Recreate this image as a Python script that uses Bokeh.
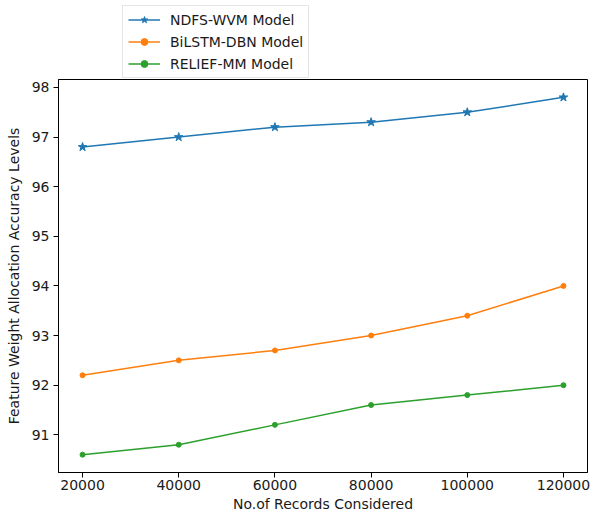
from bokeh.plotting import figure
from bokeh.layouts import column
from bokeh.models import Range1d, FixedTicker, BasicTickFormatter, Legend, LegendItem
from bokeh.embed import file_html
from bokeh.resources import INLINE

records = [20000, 40000, 60000, 80000, 100000, 120000]
ndfs_wvm = [96.8, 97.0, 97.2, 97.3, 97.5, 97.8]
bilstm_dbn = [92.2, 92.5, 92.7, 93.0, 93.4, 94.0]
relief_mm = [90.6, 90.8, 91.2, 91.6, 91.8, 92.0]
x_ticks = [20000, 40000, 60000, 80000, 100000, 120000]
y_ticks = [91, 92, 93, 94, 95, 96, 97, 98]

FONT = "DejaVu Sans"
FS = "14px"
W = 592
TOP_H = 78
MAIN_H = 516 - TOP_H

p = figure(width=W, height=MAIN_H, output_backend="svg", toolbar_location=None,
           x_range=Range1d(15000, 125000), y_range=Range1d(90.24, 98.16),
           min_border_left=58, min_border_right=5, min_border_top=1, min_border_bottom=44)

p.xgrid.visible = False
p.ygrid.visible = False
p.outline_line_color = "black"
p.outline_line_width = 1
p.outline_line_alpha = 1.0

for ax in (p.xaxis[0], p.yaxis[0]):
    ax.axis_line_color = "black"
    ax.major_tick_line_color = "black"
    ax.major_tick_out = 5
    ax.major_tick_in = 0
    ax.minor_tick_line_color = None
    ax.major_label_text_font = FONT
    ax.major_label_text_font_size = FS
    ax.major_label_text_color = "#1a1a1a"
    ax.axis_label_text_font = FONT
    ax.axis_label_text_font_size = FS
    ax.axis_label_text_font_style = "normal"
    ax.axis_label_text_color = "#1a1a1a"

p.xaxis.ticker = FixedTicker(ticks=x_ticks)
p.yaxis.ticker = FixedTicker(ticks=y_ticks)
p.xaxis.formatter = BasicTickFormatter(use_scientific=False)
p.xaxis.axis_label = "No.of Records Considered"
p.yaxis.axis_label = "Feature Weight Allocation Accuracy Levels"
p.xaxis.axis_label_standoff = 3
p.yaxis.axis_label_standoff = 7
p.xaxis.major_label_standoff = 2
p.yaxis.major_label_standoff = 4

series = [
    ("NDFS-WVM Model", ndfs_wvm, "#1f77b4", "star", 9),
    ("BiLSTM-DBN Model", bilstm_dbn, "#ff7f0e", "circle", 5),
    ("RELIEF-MM Model", relief_mm, "#2ca02c", "circle", 5),
]

for name, vals, col, marker, size in series:
    p.line(records, vals, line_color=col, line_width=1.5)
    p.scatter(records, vals, marker=marker, size=size, fill_color=col, line_color=col)

# Legend holder above the plot frame (its own small figure; the glyphs lie outside its ranges)
lf = figure(width=W, height=TOP_H, output_backend="svg", toolbar_location=None,
            x_range=Range1d(0, 1), y_range=Range1d(0, 1),
            x_axis_location=None, y_axis_location=None,
            min_border_left=0, min_border_right=0, min_border_top=0, min_border_bottom=0)
lf.xgrid.visible = False
lf.ygrid.visible = False
lf.outline_line_color = None

items = []
for name, vals, col, marker, size in series:
    l = lf.line(records, vals, line_color=col, line_width=1.5)
    s = lf.scatter(records, vals, marker=marker, size=size, fill_color=col, line_color=col)
    items.append(LegendItem(label=name, renderers=[l, s]))

legend = Legend(items=items, location=(64, 0))
legend.label_text_font = FONT
legend.label_text_font_size = FS
legend.label_text_color = "#1a1a1a"
legend.border_line_color = "#cccccc"
legend.border_line_width = 1
legend.background_fill_alpha = 1.0
legend.glyph_width = 32
legend.glyph_height = 17
legend.label_height = 17
legend.spacing = 5
legend.padding = 5
legend.margin = 0
legend.label_standoff = 10
lf.add_layout(legend, "center")

layout = column(lf, p, spacing=0)
open("out.html", "w").write(file_html(layout, INLINE))
